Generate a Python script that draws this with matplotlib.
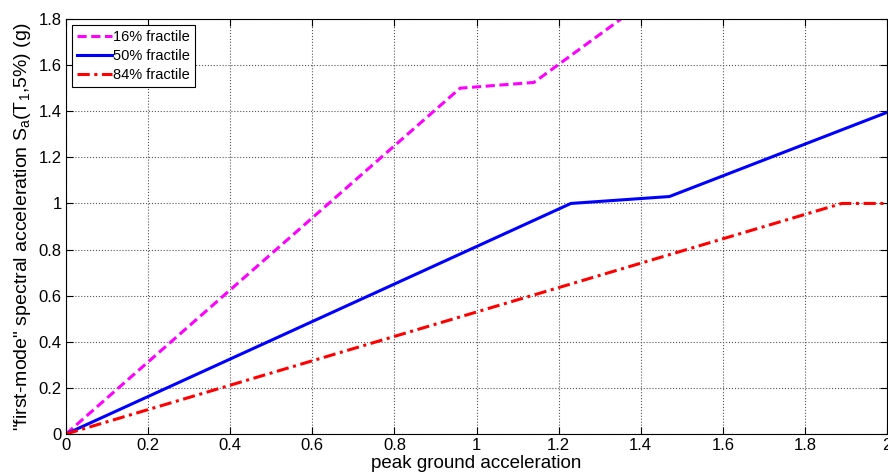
import matplotlib.pyplot as plt

plt.rcParams['font.family'] = ['Liberation Sans', 'DejaVu Sans']
plt.rcParams['mathtext.default'] = 'regular'

# breakpoints
pga_16 = [0.0, 0.96, 1.14, 1.352]
sa_16 = [0.0, 1.50, 1.525, 1.80]

pga_50 = [0.0, 1.23, 1.47, 2.0]
sa_50 = [0.0, 1.00, 1.03, 1.395]

pga_84 = [0.0, 1.89, 2.0]
sa_84 = [0.0, 1.00, 1.00]

fig = plt.figure(figsize=(8.88, 4.72), dpi=100)
ax = fig.add_axes([66 / 888, 38 / 472, 821 / 888, 415 / 472])

ax.plot(pga_16, sa_16, '--', color='magenta', lw=2.2, dashes=(3, 1.5), label='16% fractile')
ax.plot(pga_50, sa_50, '-', color='blue', lw=2.2, label='50% fractile')
ax.plot(pga_84, sa_84, '-.', color='red', lw=2.2, dashes=(4, 1.5, 1, 1.5), label='84% fractile')

ax.set_xlim(0, 2)
ax.set_ylim(0, 1.8)
ax.set_xticks([0, 0.2, 0.4, 0.6, 0.8, 1, 1.2, 1.4, 1.6, 1.8, 2])
ax.set_xticklabels(['0', '0.2', '0.4', '0.6', '0.8', '1', '1.2', '1.4', '1.6', '1.8', '2'])
ax.set_yticks([0, 0.2, 0.4, 0.6, 0.8, 1, 1.2, 1.4, 1.6, 1.8])
ax.set_yticklabels(['0', '0.2', '0.4', '0.6', '0.8', '1', '1.2', '1.4', '1.6', '1.8'])
ax.tick_params(direction='in', top=True, right=True, labelsize=12, length=5, pad=3)
ax.grid(True, linestyle=':', color='#555555', linewidth=0.8)

ax.set_xlabel('peak ground acceleration', fontsize=13.5, labelpad=1)
ax.set_ylabel('"first-mode" spectral acceleration S$_a$(T$_1$,5%) (g)', fontsize=14, labelpad=4)

leg = ax.legend(loc='upper left', fontsize=10.5, fancybox=False, framealpha=1,
                edgecolor='black', handlelength=2.4, borderpad=0.35,
                labelspacing=0.35, handletextpad=0.1, borderaxespad=0.4)
leg.get_frame().set_linewidth(0.8)

fig.savefig('out.png', dpi=100)
